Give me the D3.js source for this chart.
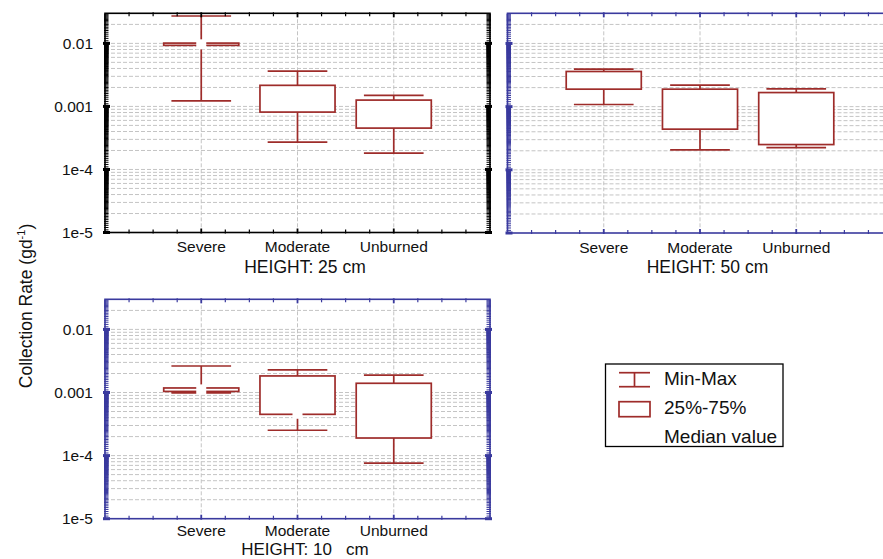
<!DOCTYPE html>
<html><head><meta charset="utf-8">
<script src="https://cdn.jsdelivr.net/npm/d3@7"></script>
<style>body{margin:0;background:#fff;} svg{display:block;font-family:"Liberation Sans",Arial,sans-serif;}</style>
</head><body>
<script>
// ---- data ----
const categories = ["Severe", "Moderate", "Unburned"];
const panelTitles = ["HEIGHT: 25 cm", "HEIGHT: 50 cm", "HEIGHT: 10   cm"];
const yTickValues = [1e-2, 1e-3, 1e-4, 1e-5];
const yTickLabels = ["0.01", "0.001", "1e-4", "1e-5"];
const yAxisTitle = "Collection Rate (gd";
const yAxisTitleSup = "-1";
const legendLabels = ["Min-Max", "25%-75%", "Median value"];

// HEIGHT 25 cm
const min25 = [0.00122, 0.000272, 0.000182];
const q1_25 = [0.0093, 0.000813, 0.000453];
const med25 = [0.00966, 0.0013, 0.0008];
const q3_25 = [0.0101, 0.00216, 0.00126];
const max25 = [0.0272, 0.00364, 0.0015];
// HEIGHT 50 cm
const min50 = [0.00108, 0.000207, 0.000225];
const q1_50 = [0.00189, 0.00044, 0.000251];
const med50 = [0.0026, 0.0009, 0.0007];
const q3_50 = [0.0036, 0.00189, 0.00167];
const max50 = [0.00393, 0.00219, 0.00191];
// HEIGHT 10 cm
const min10 = [0.00099, 0.000252, 0.000076];
const q1_10 = [0.00104, 0.000451, 0.00019];
const med10 = [0.00112, 0.00046, 0.0005];
const q3_10 = [0.00118, 0.00183, 0.0014];
const max10 = [0.00263, 0.00228, 0.00188];

const yDomain = [1e-5, 0.03];

// ---- layout ----
const RED = "#9e2c2a";
const BLUE = "#3a3a9e";
const panels = [
  {left: 105, top: 13.3, bottom: 232.5, color: "#000", labels: true, title: panelTitles[0],
   catDy: 19.5, titleDy: 40.5, titleFs: 17.5,
   mn: min25, q1: q1_25, md: med25, q3: q3_25, mx: max25},
  {left: 507.5, top: 13.3, bottom: 233, color: BLUE, labels: false, title: panelTitles[1],
   catDy: 19.5, titleDy: 40, titleFs: 17.5,
   mn: min50, q1: q1_50, md: med50, q3: q3_50, mx: max50},
  {left: 105, top: 299.3, bottom: 518.7, color: BLUE, labels: true, title: panelTitles[2],
   catDy: 17, titleDy: 36.3, titleFs: 17,
   mn: min10, q1: q1_10, md: med10, q3: q3_10, mx: max10}
];
const W = 385;

const svg = d3.select("body").append("svg").attr("width", 883).attr("height", 559);

panels.forEach(p => {
  const g = svg.append("g");
  const x = d3.scaleLinear().domain([0, 4]).range([p.left, p.left + W]);
  const y = d3.scaleLog().domain(yDomain).range([p.bottom, p.top]);

  const gridVals = [];
  const fineVals = [];
  for (let k = -5; k <= -2; k++) {
    for (let m = 1; m <= 9; m++) {
      const v = m * Math.pow(10, k);
      if (v > yDomain[0] * 1.001 && v < yDomain[1] * 0.999) gridVals.push(v);
    }
    for (let i = 0; i < 90; i++) {
      const v = (10 + i) / 10 * Math.pow(10, k);
      if (v > yDomain[0] * 1.001 && v < yDomain[1] * 0.999) fineVals.push(v);
    }
  }
  g.append("g").selectAll("line").data(gridVals).join("line")
    .attr("x1", x(0)).attr("x2", x(4))
    .attr("y1", d => y(d)).attr("y2", d => y(d))
    .attr("stroke", "#c4c4c4").attr("stroke-width", 1).attr("stroke-dasharray", "4,2");
  g.append("g").selectAll("line").data([1, 2, 3]).join("line")
    .attr("x1", d => x(d)).attr("x2", d => x(d))
    .attr("y1", p.top).attr("y2", p.bottom)
    .attr("stroke", "#c4c4c4").attr("stroke-width", 1).attr("stroke-dasharray", "4,2");

  const idx = [0, 1, 2];
  const capH = 0.31, boxH = 0.39;
  g.append("g").selectAll("line").data(idx).join("line")
    .attr("x1", i => x(i + 1)).attr("x2", i => x(i + 1))
    .attr("y1", i => y(p.mn[i])).attr("y2", i => y(p.mx[i]))
    .attr("stroke", RED).attr("stroke-width", 1.7);
  g.append("g").selectAll("line").data(idx).join("line")
    .attr("x1", i => x(i + 1 - capH)).attr("x2", i => x(i + 1 + capH))
    .attr("y1", i => y(p.mn[i])).attr("y2", i => y(p.mn[i]))
    .attr("stroke", RED).attr("stroke-width", 1.7);
  g.append("g").selectAll("line").data(idx).join("line")
    .attr("x1", i => x(i + 1 - capH)).attr("x2", i => x(i + 1 + capH))
    .attr("y1", i => y(p.mx[i])).attr("y2", i => y(p.mx[i]))
    .attr("stroke", RED).attr("stroke-width", 1.7);
  g.append("g").selectAll("rect").data(idx).join("rect")
    .attr("x", i => x(i + 1 - boxH)).attr("width", i => x(i + 1 + boxH) - x(i + 1 - boxH))
    .attr("y", i => y(p.q3[i])).attr("height", i => Math.max(0.5, y(p.q1[i]) - y(p.q3[i])))
    .attr("fill", "#fff").attr("stroke", RED).attr("stroke-width", 1.7);
  g.append("g").selectAll("rect").data(idx).join("rect")
    .attr("x", i => x(i + 1) - 5).attr("width", 10)
    .attr("y", i => y(p.md[i]) - 5).attr("height", 10)
    .attr("fill", "#fff");

  g.append("rect").attr("x", x(0)).attr("y", p.top).attr("width", W).attr("height", p.bottom - p.top)
    .attr("fill", "none").attr("stroke", p.color).attr("stroke-width", 1.6);
  const xt = d3.range(1, 16).map(i => i / 4);
  g.append("g").selectAll("line").data(xt).join("line")
    .attr("x1", d => x(d)).attr("x2", d => x(d))
    .attr("y1", p.top - 1).attr("y2", d => p.top + (Number.isInteger(d) ? 4 : 3))
    .attr("stroke", p.color).attr("stroke-width", d => Number.isInteger(d) ? 1.8 : 1.2);
  g.append("g").selectAll("line").data(xt).join("line")
    .attr("x1", d => x(d)).attr("x2", d => x(d))
    .attr("y1", p.bottom + 1).attr("y2", d => p.bottom - (Number.isInteger(d) ? 4 : 3))
    .attr("stroke", p.color).attr("stroke-width", d => Number.isInteger(d) ? 1.8 : 1.2);
  [x(0), x(4)].forEach((xx, s) => {
    const dir = s === 0 ? 1 : -1;
    g.append("g").selectAll("line").data(fineVals).join("line")
      .attr("x1", xx - dir).attr("x2", xx + dir * 3.5)
      .attr("y1", d => y(d)).attr("y2", d => y(d))
      .attr("stroke", p.color).attr("stroke-width", 1);
    g.append("g").selectAll("line").data(yTickValues).join("line")
      .attr("x1", xx - dir * 2).attr("x2", xx + dir * 5)
      .attr("y1", d => y(d)).attr("y2", d => y(d))
      .attr("stroke", p.color).attr("stroke-width", 3);
  });

  if (p.labels) {
    g.append("g").selectAll("text").data(yTickValues).join("text")
      .attr("x", p.left - 12).attr("y", d => y(d))
      .attr("text-anchor", "end").attr("dominant-baseline", "central")
      .attr("font-size", 15.5).attr("fill", "#111")
      .text((d, i) => yTickLabels[i]);
  }
  g.append("g").selectAll("text").data(categories).join("text")
    .attr("x", (d, i) => x(i + 1)).attr("y", p.bottom + p.catDy)
    .attr("text-anchor", "middle").attr("font-size", 15.5).attr("fill", "#111")
    .text(d => d);
  g.append("text").attr("x", p.left + 200).attr("y", p.bottom + p.titleDy)
    .attr("text-anchor", "middle").attr("font-size", p.titleFs).attr("fill", "#111")
    .style("white-space", "pre").attr("xml:space", "preserve")
    .text(p.title);
});

const yt = svg.append("text").attr("transform", "translate(32,306) rotate(-90)")
  .attr("text-anchor", "middle").attr("font-size", 17.5).attr("fill", "#111");
yt.append("tspan").text(yAxisTitle);
yt.append("tspan").attr("font-size", 11).attr("dy", -7).text(yAxisTitleSup);
yt.append("tspan").attr("dy", 7).text(")");

const lg = svg.append("g");
lg.append("rect").attr("x", 605.5).attr("y", 364).attr("width", 177.5).attr("height", 82.5)
  .attr("fill", "#fff").attr("stroke", "#000").attr("stroke-width", 1.3);
const ly = d3.scalePoint().domain(legendLabels).range([378.3, 436]);
lg.append("line").attr("x1", 619).attr("x2", 650).attr("y1", 372.7).attr("y2", 372.7).attr("stroke", RED).attr("stroke-width", 1.7);
lg.append("line").attr("x1", 619).attr("x2", 650).attr("y1", 386.7).attr("y2", 386.7).attr("stroke", RED).attr("stroke-width", 1.7);
lg.append("line").attr("x1", 634.5).attr("x2", 634.5).attr("y1", 372.7).attr("y2", 386.7).attr("stroke", RED).attr("stroke-width", 1.7);
lg.append("rect").attr("x", 619).attr("y", 401.7).attr("width", 31).attr("height", 15).attr("fill", "#fff").attr("stroke", RED).attr("stroke-width", 1.7);
lg.selectAll("text.lab").data(legendLabels).join("text").attr("class", "lab")
  .attr("x", 664).attr("y", d => ly(d)).attr("dominant-baseline", "central")
  .attr("font-size", 19).attr("fill", "#111").text(d => d);
</script>
</body></html>
